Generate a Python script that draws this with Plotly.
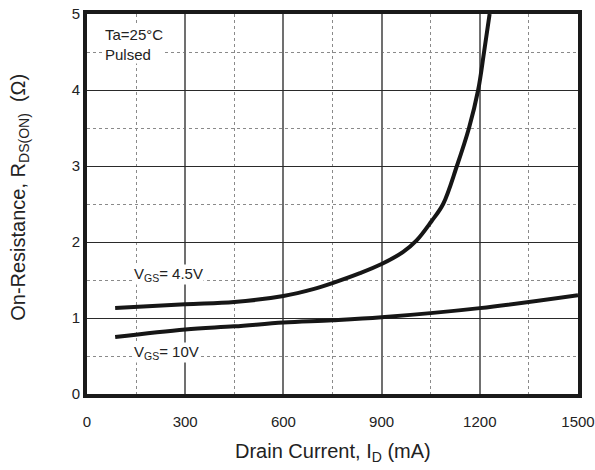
import plotly.graph_objects as go

# Data
id_45 = [86, 300, 450, 600, 691, 750, 834, 900, 966, 1007, 1052, 1088, 1130, 1167, 1195, 1213, 1230]
r_45 = [1.13, 1.18, 1.21, 1.29, 1.38, 1.46, 1.59, 1.71, 1.87, 2.02, 2.27, 2.50, 3.0, 3.5, 4.0, 4.5, 5.0]
id_10 = [86, 300, 450, 600, 750, 900, 1200, 1500]
r_10 = [0.75, 0.85, 0.89, 0.94, 0.97, 1.01, 1.13, 1.30]
x_ticks = [0, 300, 600, 900, 1200, 1500]
y_ticks = [0, 1, 2, 3, 4, 5]

FONT = "Liberation Sans, Arial, sans-serif"
TXT = "#222"

fig = go.Figure()
for xs, ys in [(id_45, r_45), (id_10, r_10)]:
    fig.add_trace(go.Scatter(x=xs, y=ys, mode="lines", cliponaxis=True,
                             line=dict(color="#161616", width=4, shape="spline", smoothing=1.0),
                             showlegend=False, hoverinfo="skip"))

fig.update_layout(
    width=595, height=470,
    margin=dict(l=87, r=17, t=14, b=76, autoexpand=False),
    paper_bgcolor="white", plot_bgcolor="white",
    font=dict(family=FONT, size=15, color=TXT),
    xaxis=dict(range=[0, 1500], tickvals=x_ticks, ticktext=[str(v) for v in x_ticks],
               showgrid=True, gridcolor="#707070", gridwidth=2,
               minor=dict(dtick=150, tick0=0, showgrid=True, gridcolor="#8a8a8a",
                          griddash="dot", gridwidth=1),
               showline=True, linecolor="#1a1a1a", linewidth=4, mirror=True,
               ticks="", zeroline=False, ticklabelstandoff=11, automargin=False),
    yaxis=dict(range=[0, 5], tickvals=y_ticks, ticktext=[str(v) for v in y_ticks],
               showgrid=True, gridcolor="#2a2a2a", gridwidth=1.2,
               minor=dict(dtick=0.5, tick0=0, showgrid=True, gridcolor="#8a8a8a",
                          griddash="dot", gridwidth=1),
               showline=True, linecolor="#1a1a1a", linewidth=4, mirror=True,
               ticks="", zeroline=False, ticklabelstandoff=0, automargin=False),
)

# Axis titles
fig.add_annotation(x=0.5, y=-0.153, xref="paper", yref="paper", xanchor="center", yanchor="middle",
                   text="Drain Current, I<sub>D</sub> (mA)", showarrow=False,
                   font=dict(size=20, color=TXT))
fig.add_annotation(x=-0.138, y=0.517, xref="paper", yref="paper", xanchor="center", yanchor="middle",
                   text="On-Resistance, R<sub>DS(ON)</sub>  (Ω)", showarrow=False, textangle=-90,
                   font=dict(size=20, color=TXT))

# In-plot labels
fig.add_annotation(x=140, y=1.57, xref="x", yref="y", xanchor="left", yanchor="middle",
                   text="V<sub>GS</sub>= 4.5V", showarrow=False, bgcolor="white",
                   font=dict(size=15, color=TXT), borderpad=0)
fig.add_annotation(x=140, y=0.54, xref="x", yref="y", xanchor="left", yanchor="middle",
                   text="V<sub>GS</sub>= 10V", showarrow=False, bgcolor="white",
                   font=dict(size=15, color=TXT), borderpad=0)
fig.add_annotation(x=52, y=4.6, xref="x", yref="y", xanchor="left", yanchor="middle",
                   text="Ta=25°C<br>Pulsed", showarrow=False, bgcolor="white", align="left",
                   font=dict(size=15, color=TXT), borderpad=0)

fig.write_html("out.html", config={"displayModeBar": False},
               post_script="document.body.style.margin='0';")
